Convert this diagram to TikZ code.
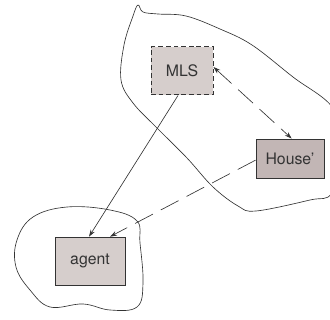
\documentclass[tikz,border=0pt]{standalone}
\usepackage{tikz}
\usepackage{xcolor}
\usepackage{fontspec}
\setmainfont{TeX Gyre Heros}
\usetikzlibrary{arrows.meta, positioning}

\definecolor{boxfill}{HTML}{D6CECC}
\definecolor{housefill}{HTML}{C2B6B5}
\definecolor{ink}{HTML}{333333}

\begin{document}
\begin{tikzpicture}[x=0.03cm, y=-0.03cm, line width=0.55pt,
  box/.style={rectangle, draw=ink, fill=boxfill, text=ink, font=\fontsize{13.5}{16}\selectfont, inner sep=0pt},
  arr/.style={-{Stealth[length=6pt, width=4pt]}, draw=ink},
  longdash/.style={dash pattern=on 0.6cm off 0.27cm}]
\useasboundingbox (0,0) rectangle (330,320);
\clip (0,0) rectangle (330,320);

% regions
\draw[ink] plot[smooth cycle, tension=0.6] coordinates {(138,5) (143,12) (158,14) (186,16) (220,29) (252,45) (293,77) (333,108) (345,150) (332,193) (310,200) (256,211) (238,206) (213,187) (187,158) (157,128) (133,103) (121,80) (124,45) (133,16)};
\draw[ink] plot[smooth cycle, tension=0.65] coordinates {(137,221) (110,210) (67,207) (33,217) (17,240) (16,267) (30,290) (50,307) (83,304) (110,310) (137,307) (143,283) (140,243)};

% boxes
\node[box, dash pattern=on 4pt off 2.5pt, line width=0.85pt, minimum width=1.86cm, minimum height=1.44cm] (mls) at (182,71) {MLS};
\node[box, fill=housefill, line width=0.8pt, minimum width=2.04cm, minimum height=1.17cm] (house) at (290,158.5) {House'};
\node[box, minimum width=2.1cm, minimum height=1.44cm] (agent) at (90,261) {agent};

% links
\draw[arr] ([xshift=-0.12cm]mls.south) -- ([xshift=-0.03cm]agent.north);
\draw[arr, {Stealth[length=6pt, width=4pt]}-{Stealth[length=6pt, width=4pt]}, longdash] ([yshift=0.12cm]mls.east) -- ([xshift=0.05cm]house.north);
\draw[arr, longdash] ([yshift=-0.05cm]house.west) -- ([xshift=0.6cm]agent.north);
\end{tikzpicture}
\end{document}
